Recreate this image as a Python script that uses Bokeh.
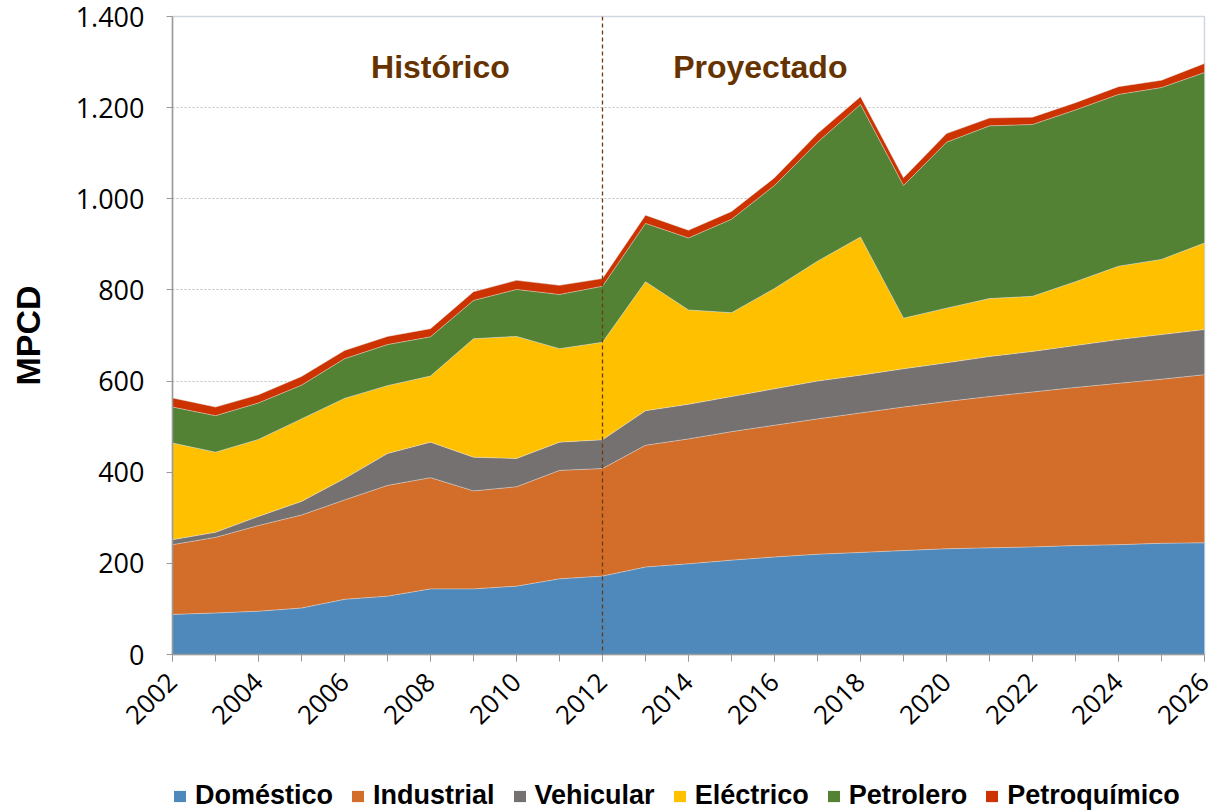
import math
from bokeh.plotting import figure
from bokeh.layouts import column
from bokeh.models import (ColumnDataSource, Range1d, FixedTicker, CustomJSTickFormatter,
                          Span, Label, Legend, LegendItem)
from bokeh.embed import file_html
from bokeh.resources import INLINE

# ---------------- data ----------------
years = list(range(2002, 2027))
series_names = ["Doméstico", "Industrial", "Vehicular", "Eléctrico", "Petrolero", "Petroquímico"]
domestico = [88, 91, 95, 102, 121, 128, 144, 144, 150, 166, 172, 192, 199, 207, 214, 220, 224, 228, 232, 234, 236, 239, 241, 244, 245]
industrial = [153, 166, 188, 204, 218, 243, 244, 215, 218, 238, 236, 267, 274, 282, 289, 297, 306, 315, 323, 332, 340, 347, 354, 360, 369]
vehicular = [11, 11, 20, 30, 47, 70, 78, 74, 62, 62, 63, 76, 76, 77, 80, 83, 83, 84, 85, 88, 89, 92, 96, 98, 99]
electrico = [212, 176, 169, 181, 176, 149, 145, 260, 268, 205, 214, 283, 207, 184, 220, 263, 303, 111, 120, 127, 121, 140, 161, 165, 190]
petrolero = [79, 80, 80, 74, 87, 90, 86, 84, 103, 119, 123, 128, 158, 205, 226, 261, 291, 291, 364, 379, 377, 377, 377, 377, 374]
petroquimico = [20, 19, 18, 19, 18, 18, 18, 19, 20, 20, 17, 18, 17, 17, 17, 19, 17, 17, 19, 17, 16, 16, 17, 16, 20]
y_ticks = [0, 200, 400, 600, 800, 1000, 1200, 1400]
x_label_years = list(range(2002, 2027, 2))
split_year = 2012
annotations = [("Histórico", 2008.23, 1290), ("Proyectado", 2015.67, 1290)]

colors = ["#4F89BC", "#D26D2A", "#767171", "#FFC000", "#548235", "#CC3300"]
keys = ["dom", "ind", "veh", "ele", "pet", "pq"]

src = ColumnDataSource(dict(year=years, dom=domestico, ind=industrial, veh=vehicular,
                            ele=electrico, pet=petrolero, pq=petroquimico))

p = figure(frame_width=1032, frame_height=638, output_backend="svg", toolbar_location=None,
           x_range=Range1d(2002, 2026), y_range=Range1d(0, 1400),
           min_border_left=172, min_border_right=20, min_border_top=16, min_border_bottom=121,
           background_fill_color="white", border_fill_color="white")

p.outline_line_color = "#D0D7E0"
p.outline_line_width = 1.5

areas = p.varea_stack(keys, x="year", source=src, color=colors)
p.vline_stack(keys, x="year", source=src, line_color="#E6E6E6", line_alpha=0.6, line_width=0.8)

# grid
p.xgrid.visible = False
p.ygrid.ticker = FixedTicker(ticks=y_ticks)
p.ygrid.grid_line_color = "#BFBFBF"
p.ygrid.grid_line_dash = "2 2"
p.ygrid.grid_line_width = 1
p.ygrid.level = "underlay"

# y axis
ya = p.yaxis[0]
ya.ticker = FixedTicker(ticks=y_ticks)
ya.formatter = CustomJSTickFormatter(code="""
var s = Math.round(tick).toString();
return s.replace(/\\B(?=(\\d{3})+(?!\\d))/g, '.');
""")
ya.axis_line_color = "#9A9A9A"
ya.axis_line_width = 1.5
ya.major_tick_line_color = "#9A9A9A"
ya.major_tick_in = 0
ya.major_tick_out = 6
ya.minor_tick_line_color = None
ya.major_label_text_font = "Open Sans"
ya.major_label_text_font_size = "27px"
ya.major_label_text_color = "black"
ya.major_label_standoff = 22
ya.axis_label = "MPCD"
ya.axis_label_text_font = "Liberation Sans"
ya.axis_label_text_font_style = "bold"
ya.axis_label_text_font_size = "34px"
ya.axis_label_text_color = "black"
ya.axis_label_standoff = 26

# x axis
xa = p.xaxis[0]
xa.ticker = FixedTicker(ticks=x_label_years, minor_ticks=years)
xa.axis_line_color = "#9A9A9A"
xa.axis_line_width = 1.5
xa.major_tick_line_color = "#9A9A9A"
xa.minor_tick_line_color = "#9A9A9A"
xa.major_tick_in = 0
xa.major_tick_out = 7
xa.minor_tick_in = 0
xa.minor_tick_out = 7
xa.major_label_orientation = math.pi / 4
xa.major_label_text_font = "Open Sans"
xa.major_label_text_font_size = "26px"
xa.major_label_text_color = "black"
xa.major_label_standoff = 16

# split line
p.add_layout(Span(location=split_year, dimension="height", line_color="#6B3A10",
                  line_dash="4 3", line_width=1.3))

for txt, xx, yy in annotations:
    p.add_layout(Label(x=xx, y=yy, text=txt, text_align="center", text_baseline="middle",
                       text_font="Liberation Sans", text_font_style="bold",
                       text_font_size="32px", text_color="#663300"))

# ---------------- legend strip (same stacked series, drawn out of view) ----------------
lg = figure(width=1224, height=37, output_backend="svg", toolbar_location=None,
            x_range=Range1d(2002, 2026), y_range=Range1d(5000, 5001),
            x_axis_location=None, y_axis_location=None,
            min_border_left=0, min_border_right=0, min_border_top=0, min_border_bottom=0,
            background_fill_color="white", border_fill_color="white")
lg.outline_line_color = None
lg.xgrid.visible = False
lg.ygrid.visible = False
lg_areas = lg.varea_stack(keys, x="year", source=src, color=colors)

items = [LegendItem(label=n, renderers=[r]) for n, r in zip(series_names, lg_areas)]
legend = Legend(items=items, orientation="horizontal", location=(0, 1),
                glyph_width=15, glyph_height=14, label_standoff=8, spacing=17,
                padding=0, margin=0, border_line_alpha=0, background_fill_alpha=0,
                label_text_font="Liberation Sans", label_text_font_style="bold",
                label_text_font_size="27px", label_text_color="black")
lg.add_layout(legend, "center")

page = column(p, lg, spacing=0)
open("out.html", "w").write(file_html(page, INLINE))
